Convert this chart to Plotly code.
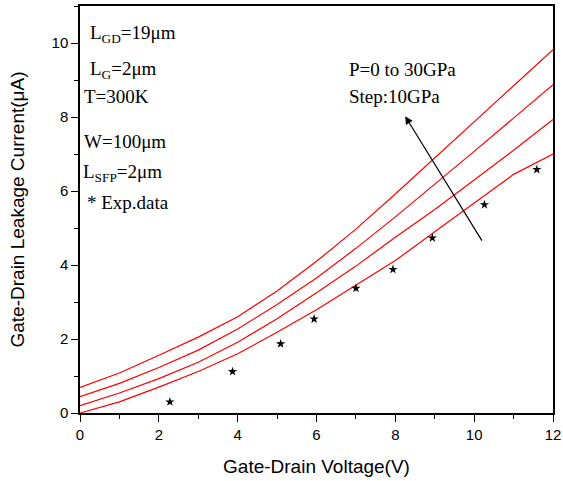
import plotly.graph_objects as go

# gate-drain voltage (V) for the simulated curves
voltage = [0, 1, 2, 3, 4, 5, 6, 7, 8, 9, 10, 11, 12]

# simulated leakage current (uA), P = 0, 10, 20, 30 GPa
current_p0 = [0.0, 0.30, 0.70, 1.12, 1.60, 2.18, 2.79, 3.45, 4.12, 4.90, 5.68, 6.45, 7.00]
current_p10 = [0.20, 0.54, 0.93, 1.37, 1.91, 2.55, 3.25, 3.97, 4.75, 5.50, 6.30, 7.10, 7.93]
current_p20 = [0.44, 0.80, 1.23, 1.70, 2.27, 2.93, 3.65, 4.45, 5.30, 6.18, 7.07, 7.97, 8.87]
current_p30 = [0.69, 1.08, 1.56, 2.05, 2.60, 3.30, 4.10, 4.97, 5.92, 6.90, 7.88, 8.85, 9.82]

# experimental points
exp_voltage = [2.28, 3.87, 5.09, 5.94, 7.00, 7.94, 8.94, 10.26, 11.59]
exp_current = [0.30, 1.12, 1.87, 2.54, 3.37, 3.88, 4.73, 5.63, 6.58]

sans = "Arial, Liberation Sans, sans-serif"
serif = "Times New Roman, Liberation Serif, serif"

fig = go.Figure()

for ys in [current_p0, current_p10, current_p20, current_p30]:
    fig.add_trace(go.Scatter(
        x=voltage, y=ys, mode="lines",
        line=dict(color="#ff0000", width=1.2),
        showlegend=False,
    ))

fig.add_trace(go.Scatter(
    x=exp_voltage, y=exp_current, mode="markers",
    marker=dict(symbol="star", size=7, color="black"),
    showlegend=False,
))

# parameter labels (left side)
labels = [
    ("L<sub>GD</sub>=19μm", 0.20, 10.25),
    ("L<sub>G</sub>=2μm", 0.20, 9.28),
    ("T=300K", 0.06, 8.55),
    ("W=100μm", 0.06, 7.33),
    ("L<sub>SFP</sub>=2μm", 0.02, 6.49),
    ("* Exp.data", 0.12, 5.68),
    ("P=0 to 30GPa", 6.78, 9.28),
    ("Step:10GPa", 6.78, 8.55),
]
for text, x, y in labels:
    fig.add_annotation(
        x=x, y=y, text=text, showarrow=False,
        xanchor="left", yanchor="middle",
        font=dict(family=serif, size=19, color="black"),
    )

# pressure arrow
fig.add_annotation(
    x=8.25, y=8.02, ax=10.22, ay=4.62,
    xref="x", yref="y", axref="x", ayref="y",
    text="", showarrow=True,
    arrowhead=2, arrowsize=1.3, arrowwidth=1.2, arrowcolor="black",
)

axis_common = dict(
    showline=True, linecolor="black", linewidth=1.5, mirror=True,
    showgrid=False, zeroline=False, automargin=False,
    ticks="outside", ticklen=7, tickwidth=1.2, tickcolor="black",
    minor=dict(ticks="outside", ticklen=4, tickwidth=1.2, tickcolor="black", dtick=1),
    tickfont=dict(family=sans, size=15, color="black"),
)

fig.update_layout(
    width=563, height=481,
    margin=dict(l=80, r=10, t=6, b=68),
    paper_bgcolor="white", plot_bgcolor="white",
    xaxis=dict(
        axis_common, range=[0, 12], dtick=2,
        title=dict(text="Gate-Drain Voltage(V)", font=dict(family=sans, size=19, color="black"), standoff=18),
    ),
    yaxis=dict(
        axis_common, range=[0, 11], dtick=2,
        title=dict(text="Gate-Drain Leakage Current(μA)", font=dict(family=sans, size=19, color="black"), standoff=22),
    ),
)

# page body has an 8px default margin; drop it so the figure sits at the corner
fig.write_html(
    "out.html",
    config={"displayModeBar": False},
    post_script="document.body.style.margin='0';",
)
